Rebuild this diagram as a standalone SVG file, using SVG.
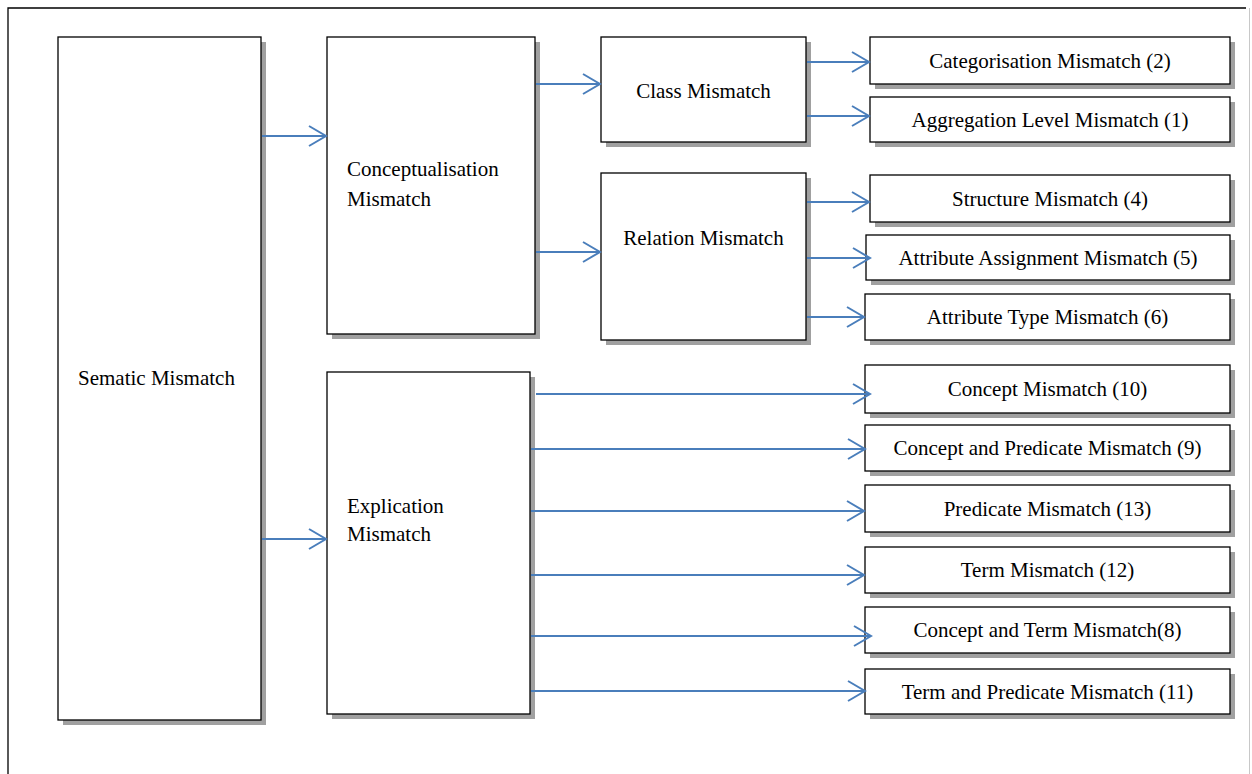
<svg xmlns="http://www.w3.org/2000/svg" width="1252" height="774" viewBox="0 0 1252 774">
  <style>
    .shadow { fill: #a0a0a0; }
    .box { fill: #ffffff; stroke: #000000; stroke-width: 1.3; }
    .lbl { font-family: "Liberation Serif", "Times New Roman", serif; font-size: 21px; fill: #000000; }
    .mid { text-anchor: middle; }
    .conn { fill: none; stroke: #4a7ebb; stroke-width: 2; }
  </style>
  <defs>
    <marker id="arrow" markerUnits="userSpaceOnUse" markerWidth="22" markerHeight="24" viewBox="-19 -12 22 24" refX="0" refY="0" orient="auto">
      <path d="M-17,-10 L0,0 L-17,10" fill="none" stroke="#4a7ebb" stroke-width="2"/>
    </marker>
  </defs>

  <rect x="0" y="0" width="1252" height="774" fill="#ffffff"/>

  <!-- outer frame -->
  <g id="frame">
    <path d="M8,774 L8,8 L1246,8" fill="none" stroke="#000000" stroke-width="1.3"/>
    <path d="M1249.5,8 L1249.5,774" fill="none" stroke="#c8c8c8" stroke-width="1"/>
  </g>

  <!-- root -->
  <g id="sematic">
    <rect class="shadow" x="63" y="42" width="203" height="683"/>
    <rect class="box" x="58" y="37" width="203" height="683"/>
    <text class="lbl" x="78" y="385">Sematic Mismatch</text>
  </g>

  <!-- second level -->
  <g id="conceptualisation">
    <rect class="shadow" x="332" y="42" width="208" height="297"/>
    <rect class="box" x="327" y="37" width="208" height="297"/>
    <text class="lbl" x="347" y="176">Conceptualisation</text>
    <text class="lbl" x="347" y="206">Mismatch</text>
  </g>
  <g id="explication">
    <rect class="shadow" x="332" y="377" width="203" height="342"/>
    <rect class="box" x="327" y="372" width="203" height="342"/>
    <text class="lbl" x="347" y="513">Explication</text>
    <text class="lbl" x="347" y="541">Mismatch</text>
  </g>

  <!-- third level -->
  <g id="class">
    <rect class="shadow" x="606" y="42" width="205" height="105"/>
    <rect class="box" x="601" y="37" width="205" height="105"/>
    <text class="lbl mid" x="703.5" y="98">Class Mismatch</text>
  </g>
  <g id="relation">
    <rect class="shadow" x="606" y="178" width="205" height="167"/>
    <rect class="box" x="601" y="173" width="205" height="167"/>
    <text class="lbl mid" x="703.5" y="245">Relation Mismatch</text>
  </g>

  <!-- leaves -->
  <g id="categorisation">
    <rect class="shadow" x="875" y="42" width="360" height="47"/>
    <rect class="box" x="870" y="37" width="360" height="47"/>
    <text class="lbl mid" x="1050" y="67.5">Categorisation Mismatch (2)</text>
  </g>
  <g id="aggregation">
    <rect class="shadow" x="875" y="102" width="360" height="45"/>
    <rect class="box" x="870" y="97" width="360" height="45"/>
    <text class="lbl mid" x="1050" y="126.5">Aggregation Level Mismatch (1)</text>
  </g>
  <g id="structure">
    <rect class="shadow" x="875" y="180" width="360" height="47"/>
    <rect class="box" x="870" y="175" width="360" height="47"/>
    <text class="lbl mid" x="1050" y="205.5">Structure Mismatch (4)</text>
  </g>
  <g id="attribute-assignment">
    <rect class="shadow" x="871" y="240" width="364" height="45"/>
    <rect class="box" x="866" y="235" width="364" height="45"/>
    <text class="lbl mid" x="1048" y="264.5">Attribute Assignment Mismatch (5)</text>
  </g>
  <g id="attribute-type">
    <rect class="shadow" x="870" y="299" width="365" height="46"/>
    <rect class="box" x="865" y="294" width="365" height="46"/>
    <text class="lbl mid" x="1047.5" y="324">Attribute Type Mismatch (6)</text>
  </g>
  <g id="concept">
    <rect class="shadow" x="870" y="370" width="365" height="48"/>
    <rect class="box" x="865" y="365" width="365" height="48"/>
    <text class="lbl mid" x="1047.5" y="396">Concept Mismatch (10)</text>
  </g>
  <g id="concept-predicate">
    <rect class="shadow" x="870" y="430" width="365" height="46"/>
    <rect class="box" x="865" y="425" width="365" height="46"/>
    <text class="lbl mid" x="1047.5" y="455">Concept and Predicate Mismatch (9)</text>
  </g>
  <g id="predicate">
    <rect class="shadow" x="870" y="490" width="365" height="47"/>
    <rect class="box" x="865" y="485" width="365" height="47"/>
    <text class="lbl mid" x="1047.5" y="515.5">Predicate Mismatch (13)</text>
  </g>
  <g id="term">
    <rect class="shadow" x="870" y="552" width="365" height="46"/>
    <rect class="box" x="865" y="547" width="365" height="46"/>
    <text class="lbl mid" x="1047.5" y="577">Term Mismatch (12)</text>
  </g>
  <g id="concept-term">
    <rect class="shadow" x="870" y="612" width="365" height="46"/>
    <rect class="box" x="865" y="607" width="365" height="46"/>
    <text class="lbl mid" x="1047.5" y="637">Concept and Term Mismatch(8)</text>
  </g>
  <g id="term-predicate">
    <rect class="shadow" x="870" y="674" width="365" height="45"/>
    <rect class="box" x="865" y="669" width="365" height="45"/>
    <text class="lbl mid" x="1047.5" y="698.5">Term and Predicate Mismatch (11)</text>
  </g>

  <!-- connectors -->
  <g id="connectors" marker-end="url(#arrow)">
    <line class="conn" x1="262" y1="136" x2="326" y2="136" marker-end="url(#arrow)"/>
    <line class="conn" x1="262" y1="539" x2="326" y2="539" marker-end="url(#arrow)"/>
    <line class="conn" x1="536" y1="84" x2="600" y2="84" marker-end="url(#arrow)"/>
    <line class="conn" x1="536" y1="252" x2="600" y2="252" marker-end="url(#arrow)"/>
    <line class="conn" x1="807" y1="62" x2="869" y2="62" marker-end="url(#arrow)"/>
    <line class="conn" x1="807" y1="116" x2="869" y2="116" marker-end="url(#arrow)"/>
    <line class="conn" x1="807" y1="202" x2="869" y2="202" marker-end="url(#arrow)"/>
    <line class="conn" x1="807" y1="258" x2="870" y2="258" marker-end="url(#arrow)"/>
    <line class="conn" x1="807" y1="317" x2="864" y2="317" marker-end="url(#arrow)"/>
    <line class="conn" x1="536" y1="394" x2="870" y2="394" marker-end="url(#arrow)"/>
    <line class="conn" x1="531" y1="449" x2="865" y2="449" marker-end="url(#arrow)"/>
    <line class="conn" x1="531" y1="511" x2="864" y2="511" marker-end="url(#arrow)"/>
    <line class="conn" x1="531" y1="575" x2="864" y2="575" marker-end="url(#arrow)"/>
    <line class="conn" x1="531" y1="636" x2="871" y2="636" marker-end="url(#arrow)"/>
    <line class="conn" x1="531" y1="691" x2="865" y2="691" marker-end="url(#arrow)"/>
  </g>
</svg>
